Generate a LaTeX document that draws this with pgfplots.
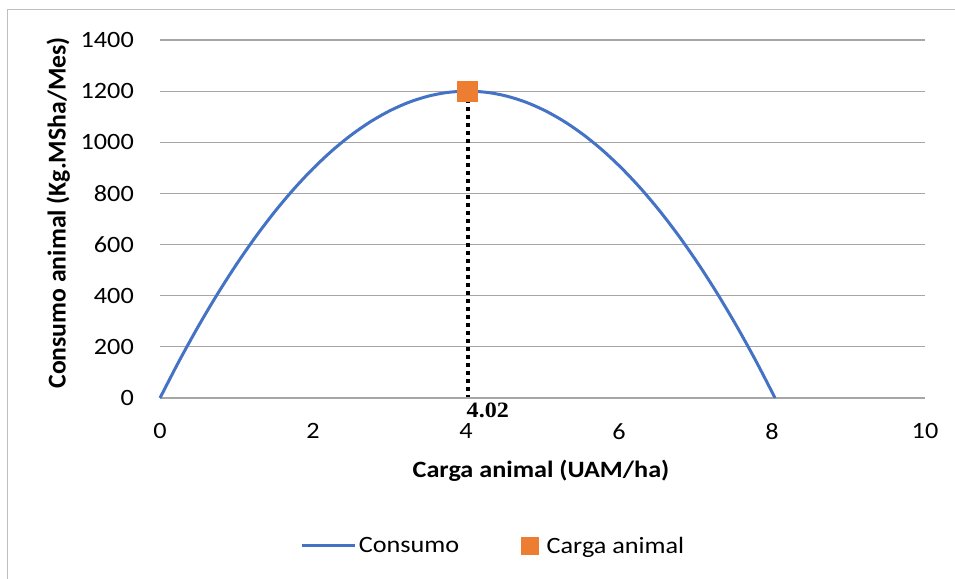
\documentclass[border=0pt]{standalone}
\usepackage{pgfplots}
\pgfplotsset{compat=1.18}
\usepackage{fontspec}
\setmainfont{Carlito}[FakeStretch=1.12]
\newfontfamily\ylabfont{Carlito}
\newfontfamily\timesfont{Liberation Serif}[FakeStretch=1.1]
\definecolor{cblue}{HTML}{4472C4}
\definecolor{corange}{HTML}{ED7D31}
\definecolor{gridc}{HTML}{A6A6A6}
\definecolor{framec}{HTML}{BFBFBF}
\begin{document}
\begin{tikzpicture}
\useasboundingbox (0,0) rectangle (955bp,579bp);
\draw[color=framec,line width=1.2bp] (7.5bp,-5bp) -- (7.5bp,569.5bp) -- (960bp,569.5bp);
\begin{axis}[
  at={(160bp,181bp)}, anchor=south west,
  scale only axis, width=765bp, height=358bp,
  xmin=0, xmax=10, ymin=0, ymax=1400,
  xtick={0,2,...,10}, ytick={0,200,...,1400},
  clip=false,
  ymajorgrids, grid style={gridc, line width=1.2bp},
  axis line style={draw=none}, major tick style={draw=none},
  /pgf/number format/assume math mode=true,
  /pgf/number format/1000 sep={},
  tick label style={font=\fontsize{23.5}{28}\selectfont, inner sep=0pt},
  yticklabel style={anchor=east, xshift=-26bp},
  xticklabel style={anchor=north, yshift=-25bp},
  xlabel={\textbf{Carga animal (UAM/ha)}},
  ylabel={\ylabfont\fontsize{25.8}{30}\selectfont\textbf{Consumo animal (Kg.MSha/Mes)}},
  label style={font=\fontsize{23.5}{28}\selectfont},
  xlabel style={at={(axis description cs:0.498,-0.204)}, anchor=center, inner sep=0pt},
  ylabel style={at={(axis description cs:-0.133,0.517)}, anchor=center, rotate=0, inner sep=0pt},
  legend style={at={(0.436,-0.413)}, anchor=center, draw=none, fill=none,
    font=\fontsize{23.5}{28}\selectfont, legend columns=2,
    /tikz/every even column/.append style={column sep=60bp}},
  legend cell align=left,
]
\addplot[cblue, line width=3bp, smooth,
  legend image code/.code={\draw[cblue, line width=3bp] (0bp,0bp) -- (53bp,0bp);}]
coordinates {
(0,0) (0.25,144.6) (0.5,279.9) (0.75,406.0) (1.0,522.8) (1.25,630.3) (1.5,728.5)
(1.75,817.4) (2.0,897.0) (2.25,967.4) (2.5,1028.4) (2.75,1080.2) (3.0,1122.7)
(3.25,1156.0) (3.5,1179.9) (3.75,1194.6) (4.02,1200) (4.29,1194.6) (4.54,1179.9)
(4.79,1156.0) (5.04,1122.7) (5.29,1080.2) (5.54,1028.4) (5.79,967.4) (6.04,897.0)
(6.29,817.4) (6.54,728.5) (6.79,630.3) (7.04,522.8) (7.29,406.0) (7.54,279.9)
(7.79,144.6) (8.04,0)
};
\addlegendentry{Consumo}
\addplot[only marks, mark=square*, mark size=10bp, color=corange,
  legend image code/.code={\fill[corange] (0bp,-8.5bp) rectangle (17bp,8.5bp);}]
coordinates {(4.02,1200)};
\addlegendentry{\hspace{6bp}Carga animal}
\addplot[black, line width=4bp, dash pattern=on 4bp off 4bp, forget plot]
coordinates {(4.02,1199) (4.02,3)};
\node[font=\timesfont\bfseries\fontsize{22}{26}\selectfont, anchor=north west, inner sep=0pt]
  at (axis cs:4.02,0) [yshift=-5bp, xshift=-1bp] {4.02};
\end{axis}
\end{tikzpicture}
\end{document}
